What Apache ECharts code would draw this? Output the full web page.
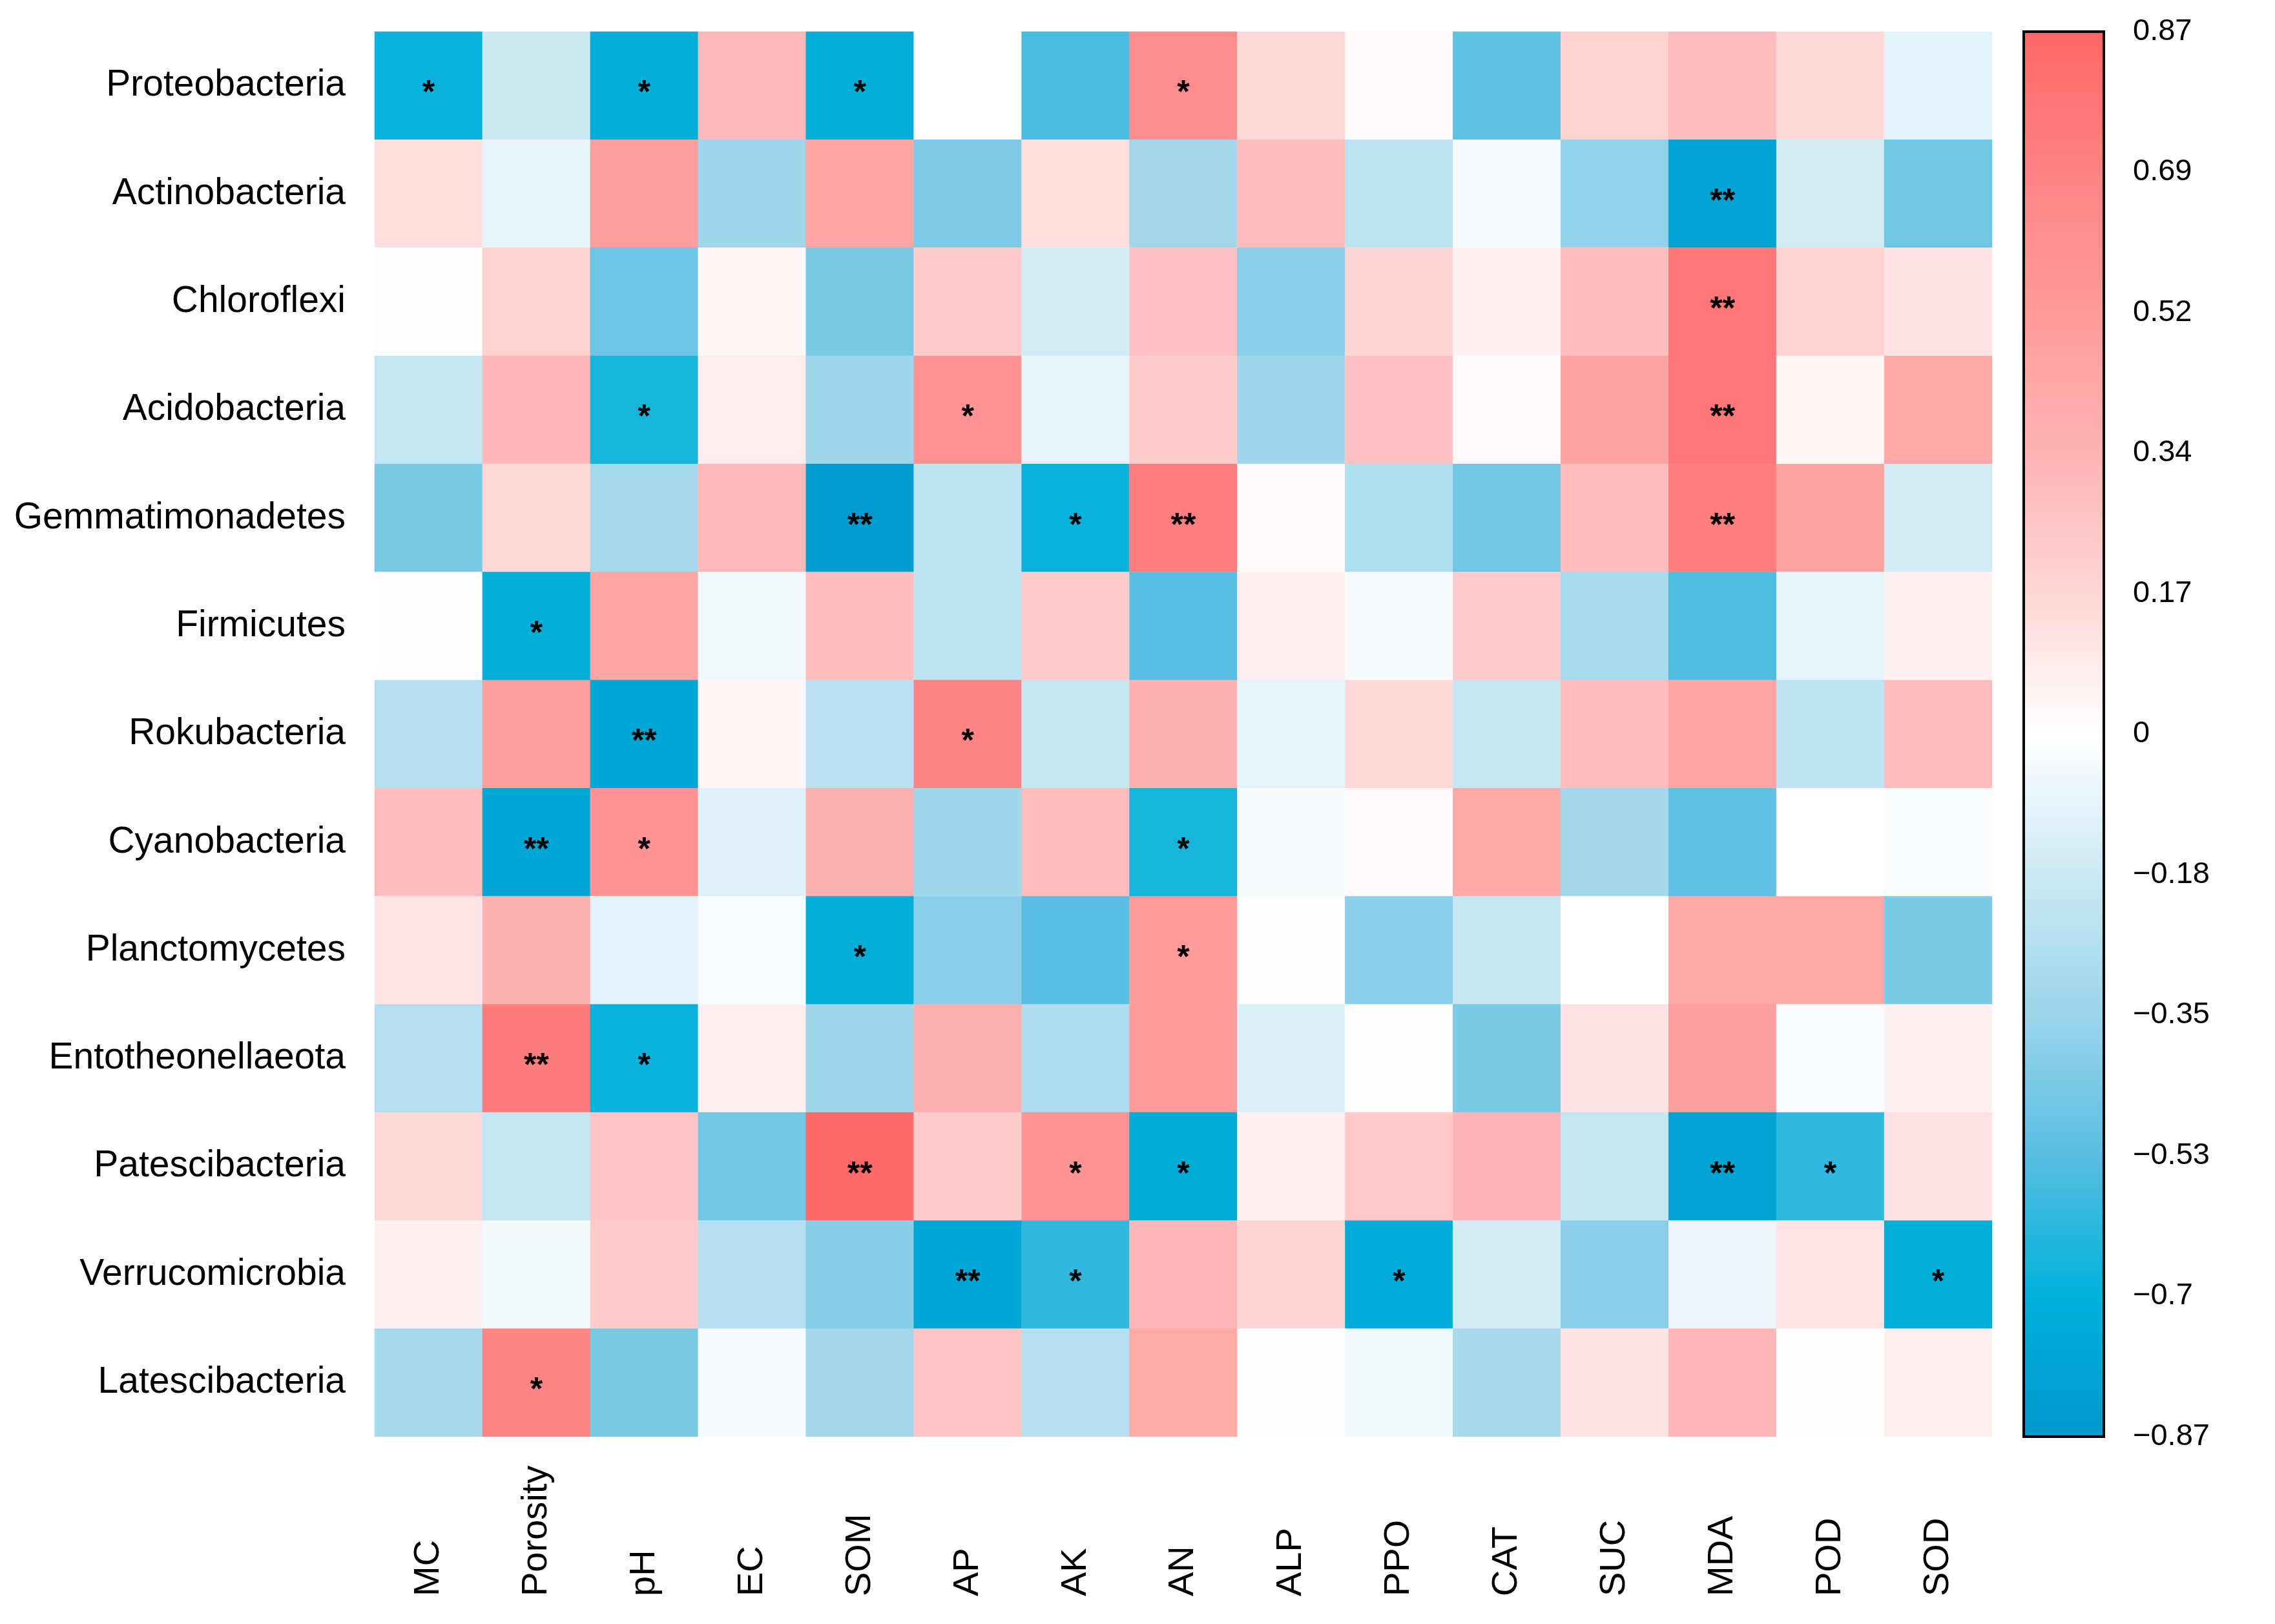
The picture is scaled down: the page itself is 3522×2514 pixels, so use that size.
<!DOCTYPE html>
<html>
<head>
<meta charset="utf-8">
<script src="https://cdn.jsdelivr.net/npm/echarts@6/dist/echarts.min.js"></script>
<style>html,body{margin:0;padding:0;background:#fff;}#c{width:3522px;height:2514px;}</style>
</head>
<body>
<div id="c"></div>
<script>
const taxa = ['Proteobacteria','Actinobacteria','Chloroflexi','Acidobacteria','Gemmatimonadetes','Firmicutes','Rokubacteria','Cyanobacteria','Planctomycetes','Entotheonellaeota','Patescibacteria','Verrucomicrobia','Latescibacteria'];
const factors = ['MC','Porosity','pH','EC','SOM','AP','AK','AN','ALP','PPO','CAT','SUC','MDA','POD','SOD'];

const rProteobacteria     = [-0.68,-0.17,-0.72, 0.32,-0.72, 0.00,-0.55, 0.63, 0.16, 0.02,-0.50, 0.20, 0.30, 0.17,-0.10];
const rActinobacteria     = [ 0.14,-0.08, 0.50,-0.33, 0.45,-0.42, 0.14,-0.32, 0.30,-0.23,-0.03,-0.37,-0.80,-0.15,-0.46];
const rChloroflexi        = [-0.01, 0.20,-0.47, 0.04,-0.44, 0.23,-0.15, 0.28,-0.39, 0.18, 0.06, 0.30, 0.77, 0.20, 0.12];
const rAcidobacteria      = [-0.20, 0.33,-0.65, 0.08,-0.34, 0.57,-0.08, 0.23,-0.33, 0.28, 0.02, 0.47, 0.77, 0.04, 0.43];
const rGemmatimonadetes   = [-0.44, 0.16,-0.31, 0.32,-0.85,-0.23,-0.68, 0.72, 0.02,-0.27,-0.46, 0.30, 0.72, 0.47,-0.15];
const rFirmicutes         = [-0.005,-0.72, 0.45,-0.05, 0.30,-0.22, 0.23,-0.52, 0.06,-0.03, 0.23,-0.30,-0.54,-0.08, 0.06];
const rRokubacteria       = [-0.26, 0.50,-0.77, 0.04,-0.24, 0.68,-0.20, 0.36,-0.08, 0.16,-0.20, 0.30, 0.45,-0.22, 0.30];
const rCyanobacteria      = [ 0.30,-0.77, 0.57,-0.11, 0.36,-0.33, 0.30,-0.65,-0.03, 0.02, 0.43,-0.32,-0.50, 0.00,-0.02];
const rPlanctomycetes     = [ 0.11, 0.36,-0.10,-0.02,-0.72,-0.39,-0.52, 0.52,-0.01,-0.39,-0.20, 0.00, 0.43, 0.43,-0.43];
const rEntotheonellaeota  = [-0.26, 0.74,-0.68, 0.07,-0.33, 0.36,-0.28, 0.52,-0.12, 0.01,-0.43, 0.12, 0.49,-0.02, 0.06];
const rPatescibacteria    = [ 0.16,-0.20, 0.26,-0.46, 0.85, 0.23, 0.57,-0.74, 0.06, 0.24, 0.34,-0.20,-0.79,-0.60, 0.12];
const rVerrucomicrobia    = [ 0.06,-0.04, 0.23,-0.25,-0.40,-0.77,-0.60, 0.33, 0.18,-0.73,-0.15,-0.39,-0.06, 0.11,-0.72];
const rLatescibacteria    = [-0.31, 0.68,-0.44,-0.03,-0.32, 0.26,-0.26, 0.42,-0.01,-0.05,-0.31, 0.12, 0.33,-0.01, 0.07];

const sProteobacteria     = ['*','','*','','*','','','*','','','','','','',''];
const sActinobacteria     = ['','','','','','','','','','','','','**','',''];
const sChloroflexi        = ['','','','','','','','','','','','','**','',''];
const sAcidobacteria      = ['','','*','','','*','','','','','','','**','',''];
const sGemmatimonadetes   = ['','','','','**','','*','**','','','','','**','',''];
const sFirmicutes         = ['','*','','','','','','','','','','','','',''];
const sRokubacteria       = ['','','**','','','*','','','','','','','','',''];
const sCyanobacteria      = ['','**','*','','','','','*','','','','','','',''];
const sPlanctomycetes     = ['','','','','*','','','*','','','','','','',''];
const sEntotheonellaeota  = ['','**','*','','','','','','','','','','','',''];
const sPatescibacteria    = ['','','','','**','','*','*','','','','','**','*',''];
const sVerrucomicrobia    = ['','','','','','**','*','','','*','','','','','*'];
const sLatescibacteria    = ['','*','','','','','','','','','','','','',''];

const tickLabels = ['\u22120.87','\u22120.7','\u22120.53','\u22120.35','\u22120.18','0','0.17','0.34','0.52','0.69','0.87'];

const corr = [rProteobacteria,rActinobacteria,rChloroflexi,rAcidobacteria,rGemmatimonadetes,rFirmicutes,rRokubacteria,rCyanobacteria,rPlanctomycetes,rEntotheonellaeota,rPatescibacteria,rVerrucomicrobia,rLatescibacteria];
const sig = [sProteobacteria,sActinobacteria,sChloroflexi,sAcidobacteria,sGemmatimonadetes,sFirmicutes,sRokubacteria,sCyanobacteria,sPlanctomycetes,sEntotheonellaeota,sPatescibacteria,sVerrucomicrobia,sLatescibacteria];

const data = [];
corr.forEach((row, i) => row.forEach((v, j) => data.push([j, i, v])));

const FONT = '"Liberation Sans", Arial, Helvetica, sans-serif';
const chart = echarts.init(document.getElementById('c'), null, {renderer: 'canvas'});
chart.setOption({
  backgroundColor: '#ffffff',
  animation: false,
  grid: [
    {left: 580, top: 49, width: 2504, height: 2175, containLabel: false},
    {left: 3133, top: 49, width: 124, height: 2175, show: true, z: 10,
     borderColor: '#000', borderWidth: 4, backgroundColor: 'rgba(0,0,0,0)'}
  ],
  xAxis: [
    {type: 'category', gridIndex: 0, data: factors, position: 'bottom',
     axisLine: {show: false}, axisTick: {show: false}, splitLine: {show: false},
     axisLabel: {rotate: 90, align: 'left', verticalAlign: 'middle', margin: 247,
       fontSize: 56, color: '#000', fontFamily: FONT, interval: 0}},
    {type: 'value', gridIndex: 1, min: 0, max: 1, show: false}
  ],
  yAxis: [
    {type: 'category', gridIndex: 0, data: taxa, inverse: true,
     axisLine: {show: false}, axisTick: {show: false}, splitLine: {show: false},
     axisLabel: {fontSize: 57, color: '#000', fontFamily: FONT, margin: 45, interval: 0}},
    {type: 'value', gridIndex: 1, min: -5, max: 5, interval: 1, position: 'right',
     axisLine: {show: false},
     axisTick: {show: true, inside: false, length: 27, lineStyle: {color: '#000', width: 3}},
     splitLine: {show: false},
     axisLabel: {margin: 45, fontSize: 47, color: '#000', fontFamily: FONT,
       formatter: v => tickLabels[Math.round(v) + 5]}}
  ],
  visualMap: {
    type: 'continuous', seriesIndex: 0, min: -0.87, max: 0.87,
    orient: 'vertical', left: 3133, top: 49, itemWidth: 124, itemHeight: 2175,
    padding: 0, calculable: false, hoverLink: false, realtime: false,
    inRange: {color: ['#0099CC','#00B1DA','#58BEE2','#9BD5EB','#CBE9F4','#FFFFFF','#FFD6D6','#FFB3B3','#FF9B9B','#FF8383','#FF6666']}
  },
  series: [{
    type: 'heatmap', xAxisIndex: 0, yAxisIndex: 0, data: data,
    itemStyle: {borderWidth: 0},
    emphasis: {disabled: true},
    label: {show: true, color: '#000', fontSize: 50, fontWeight: 'bold', fontFamily: FONT,
      offset: [0, 13],
      formatter: p => sig[p.data[1]][p.data[0]]}
  }]
});
</script>
</body>
</html>
